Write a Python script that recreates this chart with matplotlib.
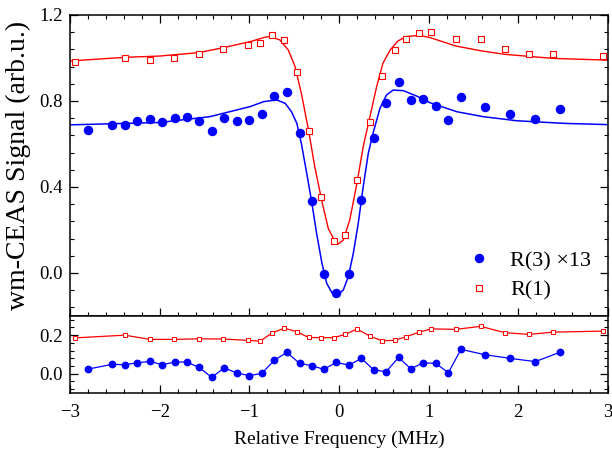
import numpy as np
import matplotlib.pyplot as plt
from matplotlib.ticker import MultipleLocator

plt.rcParams['font.family'] = ['Liberation Serif', 'DejaVu Serif']
plt.rcParams['mathtext.fontset'] = 'stix'

# R(1) points (top: signal, bottom: residual panel)
x_r1 = [-2.94, -2.39, -2.11, -1.84, -1.56, -1.29, -1.02, -0.88, -0.75, -0.61, -0.47, -0.34, -0.20, -0.06,
        0.07, 0.20, 0.35, 0.48, 0.62, 0.75, 0.89, 1.03, 1.30, 1.58, 1.85, 2.12, 2.39, 2.94]
y_r1 = [0.98, 1.00, 0.99, 1.00, 1.02, 1.04, 1.06, 1.07, 1.105, 1.085, 0.937, 0.66, 0.352, 0.149,
        0.177, 0.433, 0.70, 0.916, 1.037, 1.09, 1.118, 1.12, 1.09, 1.09, 1.04, 1.02, 1.02, 1.01]
low_r1 = [0.186, 0.20, 0.178, 0.178, 0.181, 0.18, 0.173, 0.169, 0.21, 0.237, 0.218, 0.188, 0.187, 0.187,
          0.204, 0.232, 0.194, 0.171, 0.173, 0.192, 0.215, 0.233, 0.23, 0.246, 0.213, 0.204, 0.216, 0.221]

# R(3) x13 points
x_r3 = [-2.80, -2.53, -2.39, -2.25, -2.11, -1.97, -1.83, -1.70, -1.56, -1.42, -1.28, -1.14, -1.00, -0.86,
        -0.72, -0.58, -0.44, -0.305, -0.17, -0.03, 0.11, 0.25, 0.385, 0.525, 0.665, 0.80, 0.94, 1.08,
        1.22, 1.36, 1.63, 1.91, 2.19, 2.47]
y_r3 = [0.665, 0.69, 0.69, 0.705, 0.716, 0.70, 0.72, 0.726, 0.705, 0.66, 0.72, 0.707, 0.71, 0.738,
        0.823, 0.843, 0.652, 0.337, -0.005, -0.095, -0.005, 0.34, 0.628, 0.79, 0.889, 0.806, 0.807, 0.778,
        0.712, 0.82, 0.772, 0.741, 0.715, 0.761]
low_r3 = [0.023, 0.048, 0.046, 0.056, 0.063, 0.046, 0.06, 0.06, 0.032, -0.02, 0.029, 0.003, -0.011, 0.001,
          0.07, 0.11, 0.053, 0.041, 0.022, 0.058, 0.044, 0.079, 0.02, 0.009, 0.084, 0.025, 0.056, 0.053,
          0.004, 0.126, 0.098, 0.079, 0.062, 0.112]

# fitted curves
fit1_x = [-3.0, -2.39, -2.0, -1.56, -1.29, -0.99, -0.83, -0.77, -0.66, -0.565, -0.49, -0.42, -0.34, -0.27,
          -0.19, -0.12, -0.045, -0.008, 0.048, 0.12, 0.20, 0.27, 0.345, 0.42, 0.49, 0.57, 0.66, 0.755,
          0.90, 1.015, 1.30, 1.575, 1.85, 2.39, 3.0]
fit1_y = [0.986, 1.003, 1.009, 1.025, 1.048, 1.076, 1.096, 1.10, 1.084, 1.037, 0.96, 0.836, 0.665, 0.494,
          0.332, 0.208, 0.146, 0.135, 0.153, 0.246, 0.417, 0.587, 0.727, 0.867, 0.975, 1.037, 1.08, 1.10,
          1.105, 1.095, 1.056, 1.034, 1.017, 0.998, 0.99]
fit3_x = [-3.0, -2.0, -1.44, -0.99, -0.84, -0.695, -0.60, -0.53, -0.47, -0.42, -0.36, -0.305, -0.25, -0.19,
          -0.137, -0.08, -0.019, 0.048, 0.104, 0.16, 0.215, 0.27, 0.327, 0.38, 0.457, 0.53, 0.605, 0.717,
          0.866, 1.015, 1.315, 1.61, 1.985, 2.505, 3.0]
fit3_y = [0.689, 0.70, 0.727, 0.774, 0.797, 0.805, 0.789, 0.75, 0.696, 0.603, 0.464, 0.332, 0.185, 0.045,
          -0.048, -0.091, -0.104, -0.079, -0.017, 0.092, 0.231, 0.401, 0.557, 0.65, 0.766, 0.828, 0.851, 0.848,
          0.823, 0.792, 0.75, 0.727, 0.708, 0.696, 0.69]

fig = plt.figure(figsize=(6.12, 4.54), dpi=100)
ax1 = fig.add_axes([0.1144, 0.304, 0.879, 0.663])
ax2 = fig.add_axes([0.1144, 0.135, 0.879, 0.169], sharex=ax1)

ax1.plot(fit1_x, fit1_y, color='red', lw=1.0)
ax1.plot(fit3_x, fit3_y, color='blue', lw=1.1)
ax1.plot(x_r3, y_r3, 'o', color='blue', ms=5.8, label='R(3) ×13')
ax1.plot(x_r1, y_r1, 's', mfc='white', mec='red', mew=0.8, ms=4.4, ls='none', label='R(1)')

ax2.plot(x_r1, low_r1, 's-', color='red', mfc='white', mec='red', mew=0.7, ms=3.3, lw=0.9)
ax2.plot(x_r3, low_r3, 'o-', color='blue', ms=4.6, lw=0.9)

ax1.set_xlim(-3, 3)
ax1.set_ylim(-0.2, 1.2)
ax2.set_ylim(-0.1, 0.3)

ax1.yaxis.set_major_locator(MultipleLocator(0.4))
ax1.yaxis.set_minor_locator(MultipleLocator(0.08))
ax2.yaxis.set_major_locator(MultipleLocator(0.2))
ax2.yaxis.set_minor_locator(MultipleLocator(0.04))
ax2.xaxis.set_major_locator(MultipleLocator(1))
ax2.xaxis.set_minor_locator(MultipleLocator(0.2))
ax1.yaxis.set_major_formatter(plt.FormatStrFormatter('%.1f'))
ax2.yaxis.set_major_formatter(plt.FormatStrFormatter('%.1f'))

for ax in (ax1, ax2):
    for s in ax.spines.values():
        s.set_linewidth(1.1)
    ax.tick_params(which='major', direction='in', length=5.5, width=0.9, labelsize=13.5, pad=5)
    ax.tick_params(which='minor', direction='in', length=3, width=0.8)
ax1.tick_params(which='both', top=True, right=True, labelbottom=False)
ax2.tick_params(which='both', top=False, right=True)
ax2.tick_params(axis='x', pad=8)

ax1.set_ylabel('wm-CEAS Signal (arb.u.)', fontsize=20, labelpad=6)
ax2.set_xlabel('Relative Frequency (MHz)', fontsize=14, labelpad=7)

ax1.legend(loc='lower right', bbox_to_anchor=(0.969, 0.05), frameon=False, fontsize=16,
           handlelength=1.0, handletextpad=0.9, labelspacing=0.42, borderpad=0, borderaxespad=0)

fig.savefig('out.png', dpi=100)
